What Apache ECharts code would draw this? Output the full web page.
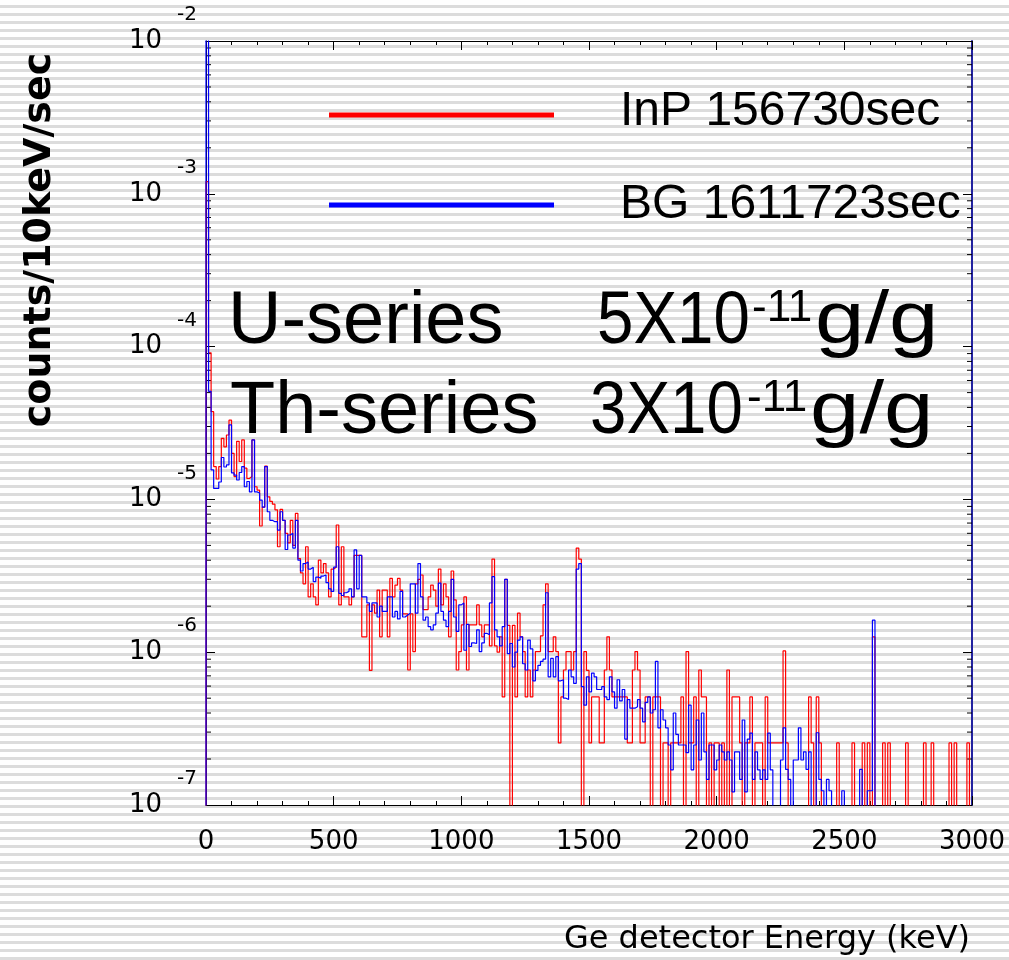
<!DOCTYPE html>
<html><head><meta charset="utf-8">
<script src="https://cdn.jsdelivr.net/npm/echarts@6/dist/echarts.min.js"></script>
<style>
html,body{margin:0;padding:0;}
body{width:1009px;height:960px;overflow:hidden;background:repeating-linear-gradient(to bottom,#ffffff 0px,#ffffff 5px,#dcdcdc 5px,#dcdcdc 8px);}
#chart{width:1009px;height:960px;}
</style></head><body><div id="chart"></div>
<script>
// ---- data (counts / 10 keV / sec), one value per 10 keV bin starting at 0 keV ----
const binWidthKeV = 10;
const inpValues = [
1.2e-3,9.1e-5,3.75e-5,1.64e-5,1.36e-5,1.64e-5,2.51e-5,2.21e-5,2.64e-5,3.3e-5,
2.0e-5,1.41e-5,2.4e-5,1.77e-5,2.45e-5,1.6e-5,1.37e-5,1.41e-5,2.45e-5,1.21e-5,
1.15e-5,6.7e-6,8.9e-6,1.65e-5,1.04e-5,9.7e-6,9.3e-6,8.55e-6,4.9e-6,8.6e-6,
7.3e-6,6.0e-6,5.2e-6,7.3e-6,5.0e-6,8.1e-6,4.1e-6,3.3e-6,2.8e-6,4.9e-6,
2.3e-6,2.8e-6,2.3e-6,2.04e-6,4.0e-6,3.3e-6,3.8e-6,3.3e-6,2.3e-6,3.5e-6,
3.6e-6,6.8e-6,2.04e-6,4.9e-6,2.3e-6,2.3e-6,2.04e-6,2.3e-6,4.3e-6,4.3e-6,
4.3e-6,1.26e-6,1.26e-6,2.04e-6,7.6e-7,2.04e-6,1.8e-6,2.55e-6,1.26e-6,2.55e-6,
2.55e-6,1.26e-6,3.04e-6,2.3e-6,2.75e-6,3.04e-6,2.55e-6,1.78e-6,1.78e-6,7.65e-7,
1.78e-6,1.01e-6,2.8e-6,3.0e-6,3.2e-6,1.9e-6,1.9e-6,2.3e-6,2.75e-6,2.55e-6,
2.0e-6,3.5e-6,2.04e-6,2.8e-6,2.3e-6,1.26e-6,3.4e-6,2.2e-6,7.65e-7,1.01e-6,
1.51e-6,2.3e-6,7.65e-7,1.51e-6,1.51e-6,1.51e-6,2.04e-6,1.51e-6,1.26e-6,1.51e-6,
1.51e-6,1.1e-6,4.07e-6,1.1e-6,1.0e-6,1.26e-6,5.1e-7,3.0e-6,1.5e-6,0,
1.5e-6,5.1e-7,1.8e-6,1.26e-6,1.01e-6,5.1e-7,7.65e-7,5.1e-7,7.65e-7,1.01e-6,
1.01e-6,1.28e-6,2.04e-6,2.8e-6,1.01e-6,1.01e-6,1.26e-6,1.01e-6,2.55e-7,5.1e-7,
7.65e-7,1.01e-6,1.01e-6,7.65e-7,1.01e-6,4.8e-6,4.07e-6,0,1.01e-6,7.6e-7,
2.55e-7,5.1e-7,5.1e-7,5.1e-7,2.55e-7,2.55e-7,7.65e-7,1.26e-6,7.65e-7,5.1e-7,
5.1e-7,5.1e-7,5.1e-7,5.1e-7,5.1e-7,2.55e-7,2.55e-7,7.65e-7,1.01e-6,7.65e-7,
2.55e-7,2.55e-7,5.1e-7,5.1e-7,0,5.1e-7,5.1e-7,5.1e-7,0,2.55e-7,
2.55e-7,0,2.55e-7,2.55e-7,2.55e-7,2.55e-7,5.1e-7,0,1.01e-6,2.55e-7,
2.55e-7,5.1e-7,0,7.65e-7,5.1e-7,5.1e-7,0,2.55e-7,0,2.55e-7,
2.55e-7,0,2.55e-7,0,7.65e-7,0,5.1e-7,5.1e-7,5.1e-7,2.55e-7,
0,2.55e-7,2.55e-7,5.1e-7,0,2.55e-7,2.55e-7,2.55e-7,0,5.1e-7,
2.55e-7,2.55e-7,2.55e-7,2.55e-7,2.55e-7,2.55e-7,1.02e-6,2.55e-7,0,0,
0,0,0,0,0,0,5.1e-7,2.55e-7,0,5.1e-7,
2.55e-7,0,0,0,0,0,0,2.55e-7,0,0,
0,0,0,2.55e-7,0,0,0,2.55e-7,0,2.55e-7,
0,1.26e-6,0,0,0,2.55e-7,0,2.55e-7,0,0,
0,0,0,0,2.55e-7,0,0,0,0,0,
0,2.55e-7,0,0,2.55e-7,0,0,0,0,0,
0,2.55e-7,0,2.55e-7,0,0,0,0,2.55e-7,0
];
const bgValues = [
2e-2,5.1e-5,1.56e-5,1.18e-5,1.18e-5,1.3e-5,1.88e-5,1.63e-5,1.68e-5,3.07e-5,
1.49e-5,1.44e-5,1.34e-5,1.5e-5,1.64e-5,1.21e-5,1.31e-5,1.12e-5,2.45e-5,1.12e-5,
1.1e-5,9.9e-6,8.9e-6,1.64e-5,8.3e-6,7.3e-6,7.15e-6,7.15e-6,6.3e-6,8.3e-6,
7.3e-6,4.7e-6,5.85e-6,6.0e-6,4.8e-6,7.3e-6,4.0e-6,3.4e-6,3.8e-6,3.9e-6,
3.5e-6,3.6e-6,2.9e-6,3.1e-6,3.05e-6,3.15e-6,3.2e-6,2.85e-6,2.6e-6,2.5e-6,
3.6e-6,4.9e-6,2.43e-6,2.35e-6,2.45e-6,2.5e-6,2.6e-6,2.3e-6,4.67e-6,2.6e-6,
4.3e-6,2.3e-6,2.3e-6,2.1e-6,1.85e-6,2.1e-6,2.1e-6,1.7e-6,2.0e-6,1.85e-6,
1.85e-6,2.3e-6,2.3e-6,1.7e-6,1.85e-6,1.65e-6,2.5e-6,1.7e-6,1.75e-6,1.8e-6,
2.8e-6,2.8e-6,1.8e-6,3.8e-6,2.3e-6,1.62e-6,1.7e-6,1.47e-6,1.4e-6,1.51e-6,
1.8e-6,2.83e-6,1.85e-6,1.62e-6,1.47e-6,1.85e-6,3.0e-6,1.7e-6,1.37e-6,2.04e-6,
2.1e-6,1.03e-6,1.52e-6,1.09e-6,1.15e-6,1.14e-6,1.4e-6,1.01e-6,1.15e-6,1.33e-6,
1.3e-6,2.1e-6,3.12e-6,1.4e-6,1.26e-6,1.1e-6,1.47e-6,3.0e-6,9.8e-7,1.14e-6,
8.0e-7,1.0e-6,1.2e-6,1.26e-6,8.4e-7,7.65e-7,1.2e-6,1.05e-6,6.5e-7,7.6e-7,
8.2e-7,8.7e-7,9.0e-7,2.45e-6,6.9e-7,9.1e-7,6.9e-7,9.35e-7,6.5e-7,6.6e-7,
5.0e-7,4.9e-7,7.65e-7,6.9e-7,6.25e-7,3.5e-6,3.8e-6,5.95e-7,4.5e-7,6.9e-7,
5.5e-7,7.3e-7,6.9e-7,5.7e-7,5.7e-7,5.95e-7,5.1e-7,4.9e-7,6.9e-7,5.5e-7,
4.3e-7,6.6e-7,4.8e-7,5.7e-7,2.7e-7,4.9e-7,4.3e-7,4.3e-7,4.4e-7,4.9e-7,
4.3e-7,3.5e-7,4.7e-7,5.1e-7,4.0e-7,4.2e-7,8.7e-7,3.2e-7,4.2e-7,3.6e-7,
3.2e-7,2.47e-7,1.7e-7,4.0e-7,2.9e-7,2.47e-7,2.47e-7,2.47e-7,2.2e-7,4.5e-7,
1.7e-7,2.47e-7,3.6e-7,1.97e-7,4.0e-7,2.23e-7,1.47e-7,2.47e-7,2.47e-7,1.7e-7,
1.97e-7,2.47e-7,2.23e-7,1.97e-7,2.23e-7,1.97e-7,1.22e-7,2.23e-7,2.23e-7,1.47e-7,
3.6e-7,1.22e-7,2.7e-7,2.95e-7,1.47e-7,2.23e-7,1.7e-7,1.47e-7,1.7e-7,1.47e-7,
2.95e-7,1.7e-7,0,0,0,1.97e-7,3.2e-7,1.71e-7,1.47e-7,0,
1.97e-7,1.97e-7,3.2e-7,1.97e-7,2.23e-7,1.71e-7,2.23e-7,0,0,2.97e-7,
1.47e-7,1.24e-7,0,1.47e-7,1.24e-7,0,0,0,0,1.24e-7,
0,0,0,0,0,0,1.71e-7,0,0,1.24e-7,
1.24e-7,1.62e-6,0,0,0,0,0,0,0,0,
0,0,0,0,0,0,0,0,0,0,
0,0,0,0,0,0,0,0,0,0,
0,0,0,0,0,0,0,0,0,0
];
const seriesNames = ['InP 156730sec', 'BG 1611723sec'];
const xTickValues = [0, 500, 1000, 1500, 2000, 2500, 3000];
const yDecadeExponents = [-7, -6, -5, -4, -3, -2];
const yMinorMultipliers = [2, 3, 4, 5, 6, 7, 8, 9];
const annotationLines = [
  {label: 'U-series', mant: '5X10', exp: '-11', unit: 'g/g'},
  {label: 'Th-series', mant: '3X10', exp: '-11', unit: 'g/g'}
];

// ---- build step-histogram point lists (zero bins drop below the axis) ----
const FLOOR = 1e-9;
function stepPoints(vals) {
  const pts = [[0, FLOOR]];
  vals.forEach((v, i) => pts.push([i * binWidthKeV, v > 0 ? v : FLOOR]));
  const last = vals[vals.length - 1];
  pts.push([vals.length * binWidthKeV, last > 0 ? last : FLOOR]);
  pts.push([vals.length * binWidthKeV, FLOOR]);
  return pts;
}
const yMin = Math.pow(10, yDecadeExponents[0]);
const yMax = Math.pow(10, yDecadeExponents[yDecadeExponents.length - 1]);
const xMin = xTickValues[0], xMax = xTickValues[xTickValues.length - 1];
const minorTickData = [];
yDecadeExponents.slice(0, -1).forEach(e => yMinorMultipliers.forEach(m => minorTickData.push([xMin, m * Math.pow(10, e)])));

const FONT = 'DejaVu Sans';
const BIG = 'Liberation Sans';
const chart = echarts.init(document.getElementById('chart'), null, {renderer: 'canvas'});
const xAxisCommon = {
  type: 'value', min: xMin, max: xMax, interval: 500,
  axisLine: {show: true, onZero: false, lineStyle: {color: '#000', width: 1}},
  axisTick: {show: true, inside: true, length: 9, lineStyle: {color: '#000'}},
  minorTick: {show: true, splitNumber: 5, length: 4, lineStyle: {color: '#000'}},
  splitLine: {show: false}, minorSplitLine: {show: false}
};
function bigText(x, y, text, size, sx) {
  return {type: 'text', x: x, y: y, scaleX: sx || 1,
    style: {text: text, fontFamily: BIG, fontSize: size, fill: '#000', align: 'left', verticalAlign: 'middle'}};
}
const option = {
  backgroundColor: 'transparent',
  animation: false,
  grid: {left: 206, right: 37, top: 41, bottom: 155, containLabel: false},
  xAxis: [
    Object.assign({}, xAxisCommon, {position: 'bottom',
      axisLabel: {show: true, margin: 24, color: '#000', fontFamily: FONT, fontSize: 26, formatter: v => String(v)}}),
    Object.assign({}, xAxisCommon, {position: 'top', axisLabel: {show: false}})
  ],
  yAxis: [
    {type: 'log', logBase: 10, min: yMin, max: yMax, position: 'left',
     axisLine: {show: true, onZero: false, lineStyle: {color: '#000', width: 1}},
     axisTick: {show: true, inside: true, length: 9, lineStyle: {color: '#000'}},
     splitLine: {show: false},
     axisLabel: {show: true, margin: 9, color: '#000', padding: [0, 0, 26, 0],
       formatter: v => '{e|' + Math.round(Math.log10(v)) + '}\n{b|10}{sp| }',
       rich: {
         e: {fontFamily: FONT, fontSize: 20, lineHeight: 26, color: '#000'},
         b: {fontFamily: FONT, fontSize: 26, lineHeight: 26, color: '#000'},
         sp: {width: 35, fontSize: 26, lineHeight: 26}
       }}},
    {type: 'log', logBase: 10, min: yMin, max: yMax, position: 'right',
     axisLine: {show: true, onZero: false, lineStyle: {color: '#2222a0', width: 2}},
     axisTick: {show: true, inside: true, length: 9, lineStyle: {color: '#000'}},
     splitLine: {show: false}, axisLabel: {show: false}}
  ],
  series: [
    {name: seriesNames[0], type: 'line', step: 'end', data: stepPoints(inpValues),
     xAxisIndex: 0, yAxisIndex: 0, showSymbol: false, symbol: 'none', clip: true,
     lineStyle: {color: '#ff0000', width: 1.2}, itemStyle: {color: '#ff0000'}, z: 3},
    {name: seriesNames[1], type: 'line', step: 'end', data: stepPoints(bgValues),
     xAxisIndex: 0, yAxisIndex: 0, showSymbol: false, symbol: 'none', clip: true,
     lineStyle: {color: '#0000ff', width: 1.2}, itemStyle: {color: '#0000ff'}, z: 4},
    {type: 'custom', xAxisIndex: 0, yAxisIndex: 0, data: minorTickData, clip: false, z: 1,
     renderItem: (params, api) => {
       const v = api.value(1);
       const pl = api.coord([xMin, v]);
       const pr = api.coord([xMax, v]);
       return {type: 'group', children: [
         {type: 'line', shape: {x1: pl[0], y1: pl[1], x2: pl[0] + 5, y2: pl[1]}, style: {stroke: '#000', lineWidth: 1}},
         {type: 'line', shape: {x1: pr[0] - 5, y1: pr[1], x2: pr[0], y2: pr[1]}, style: {stroke: '#000', lineWidth: 1}}
       ]};
     }}
  ],
  graphic: [
    {type: 'text', x: 40, y: 240, rotation: Math.PI / 2,
     style: {text: 'counts/10keV/sec', fontFamily: FONT, fontWeight: 'bold', fontSize: 38, fill: '#000', align: 'center', verticalAlign: 'middle'}},
    {type: 'text', x: 970, y: 940,
     style: {text: 'Ge detector Energy (keV)', fontFamily: FONT, fontSize: 32, fill: '#000', align: 'right', verticalAlign: 'middle'}},
    {type: 'rect', shape: {x: 329, y: 112.5, width: 225, height: 5}, style: {fill: '#ff0000'}},
    {type: 'rect', shape: {x: 329, y: 202.5, width: 225, height: 5}, style: {fill: '#0000ff'}},
    {type: 'text', x: 620, y: 112, style: {text: seriesNames[0], fontFamily: BIG, fontSize: 48, fill: '#000', align: 'left', verticalAlign: 'middle'}},
    {type: 'text', x: 620, y: 205, style: {text: seriesNames[1], fontFamily: BIG, fontSize: 48, fill: '#000', align: 'left', verticalAlign: 'middle'}},
    bigText(228, 323, annotationLines[0].label, 74),
    bigText(597, 323, annotationLines[0].mant, 74, 0.885),
    bigText(752, 309, annotationLines[0].exp, 44),
    bigText(815, 323, annotationLines[0].unit, 74, 1.2),
    bigText(230, 413, annotationLines[1].label, 74),
    bigText(590, 413, annotationLines[1].mant, 74, 0.885),
    bigText(747, 399, annotationLines[1].exp, 44),
    bigText(810, 413, annotationLines[1].unit, 74, 1.2)
  ]
};
chart.setOption(option);
</script>
</body></html>
